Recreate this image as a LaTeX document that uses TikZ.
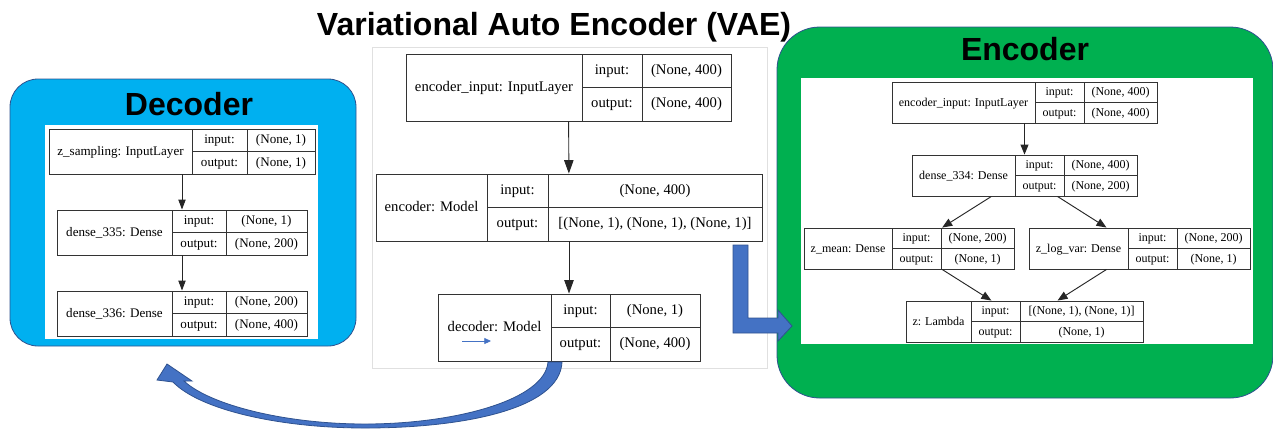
\documentclass[tikz,border=0pt]{standalone}
\usepackage{fontspec}
\setmainfont{Liberation Serif}
\newfontfamily\headfont{Liberation Sans}
\usetikzlibrary{arrows.meta,fit}

\definecolor{vaeblue}{HTML}{00B0F0}
\definecolor{vaegreen}{HTML}{00B050}
\definecolor{arrowblue}{HTML}{4472C4}
\definecolor{edgeblue}{HTML}{2F528F}

\newcommand{\rowh}{20}
% one cell: name, x1, y1, x2, y2, text
\newcommand{\cell}[6]{%
  \node[rec, minimum width={((#4)-(#2))*0.75pt}, minimum height={((#5)-(#3))*0.75pt}]
    (#1) at ({((#2)+(#4))/2},{((#3)+(#5))/2}) {#6};
}
% one keras layer record: id, x1, y1, x of labels, x of values, x2, name, input, output
\newcommand{\layerrec}[9]{%
  \cell{#1}{#2}{#3}{#4}{#3+2*\rowh}{#7}
  \cell{#1-il}{#4}{#3}{#5}{#3+\rowh}{input:}
  \cell{#1-ol}{#4}{#3+\rowh}{#5}{#3+2*\rowh}{output:}
  \cell{#1-iv}{#5}{#3}{#6}{#3+\rowh}{#8}
  \cell{#1-ov}{#5}{#3+\rowh}{#6}{#3+2*\rowh}{#9}
  \cell{#1-rec}{#2}{#3}{#6}{#3+2*\rowh}{}
}

\begin{document}
\begin{tikzpicture}[
  x=0.75pt, y=-0.75pt,
  rec/.style={draw=black!80, line width=0.7pt, inner sep=0pt, text height=1.5ex, text depth=0.3ex},
  panel/.style={draw=edgeblue, line width=0.6pt, inner sep=0pt},
  inner/.style={fill=white, inner sep=0pt},
  head/.style={font=\headfont\bfseries\fontsize{24}{27}\selectfont, anchor=base},
  arr/.style={-{Triangle[length=7.5pt,width=5.5pt]}, draw=black!85, line width=0.7pt},
  blockarr/.style={fill=arrowblue, draw=edgeblue, line width=0.6pt}
]
  \useasboundingbox (0,0) rectangle (1273,430);

  \node[head] (title) at (554,35) {Variational Auto Encoder (VAE)};

  % decoder panel
  \node[panel, fill=vaeblue, rounded corners=21pt, fit={(10,79)(356,346)}] (decpanel) {};
  \node[inner, fit={(45,125)(318,339)}] (decsheet) {};
  \node[head] (dectitle) at (189,115) {Decoder};
  \begin{scope}[rec/.append style={font=\fontsize{9.8}{11}\selectfont}]
    \renewcommand{\rowh}{22.5}
    \layerrec{zs}{49}{129}{192}{247}{315}{z\_sampling: InputLayer}{(None, 1)}{(None, 1)}
    \layerrec{dd1}{57}{210}{172}{226}{307}{dense\_335: Dense}{(None, 1)}{(None, 200)}
    \layerrec{dd2}{57}{291}{172}{226}{307}{dense\_336: Dense}{(None, 200)}{(None, 400)}
    \draw[arr] (zs-rec) -- (dd1-rec);
    \draw[arr] (dd1-rec) -- (dd2-rec);
  \end{scope}

  % whole model
  \node[draw=black!12, line width=0.6pt, inner sep=0pt, fit={(372,47)(767,368)}] (vaesheet) {};
  \begin{scope}[rec/.append style={font=\fontsize{11}{13}\selectfont},
      arr/.append style={-{Triangle[length=10pt,width=7pt]}}]
    \renewcommand{\rowh}{33.5}
    \layerrec{cin}{406}{54}{582}{642}{731}{encoder\_input: InputLayer}{(None, 400)}{(None, 400)}
    \layerrec{cenc}{376}{174}{487}{548}{762}{encoder: Model}{(None, 400)}{[(None, 1), (None, 1), (None, 1)]}
    \layerrec{cdec}{438}{294}{551}{610}{700}{decoder: Model}{(None, 1)}{(None, 400)}
    \draw[arr] (cin-rec) -- (cenc-rec);
    \draw[arr] (cenc-rec) -- (cdec-rec);
  \end{scope}
  \draw[-{Triangle[length=5pt,width=4.5pt]}, arrowblue, line width=0.6pt] (462,341) -- (491,341);

  % encoder panel
  \node[panel, fill=vaegreen, rounded corners=32pt, fit={(777,27)(1273,398)}] (encpanel) {};
  \node[inner, fit={(801,78)(1253,344)}] (encsheet) {};
  \node[head] (enctitle) at (1025,60) {Encoder};
  \begin{scope}[rec/.append style={font=\fontsize{9}{10}\selectfont},
      arr/.append style={-{Triangle[length=7.5pt,width=6pt]}}]
    \renewcommand{\rowh}{20.5}
    \layerrec{ein}{892}{82}{1035}{1084}{1157}{encoder\_input: InputLayer}{(None, 400)}{(None, 400)}
    \layerrec{ed}{912}{155}{1015}{1064}{1137}{dense\_334: Dense}{(None, 400)}{(None, 200)}
    \layerrec{zm}{804}{228}{892}{941}{1014}{z\_mean: Dense}{(None, 200)}{(None, 1)}
    \layerrec{zv}{1029}{228}{1128}{1177}{1250}{z\_log\_var: Dense}{(None, 200)}{(None, 1)}
    \layerrec{zl}{906}{301}{971}{1020}{1143}{z: Lambda}{[(None, 1), (None, 1)]}{(None, 1)}
    \draw[arr] (ein-rec) -- (ed-rec);
    \draw[arr] (ed-rec) -- (zm-rec);
    \draw[arr] (ed-rec) -- (zv-rec);
    \draw[arr] (zm-rec) -- (zl-rec);
    \draw[arr] (zv-rec) -- (zl-rec);
  \end{scope}

  % block arrows
  \draw[blockarr] (733,245) -- (748,245) -- (748,318) -- (778,318) -- (778,310)
    -- (792,326) -- (778,341) -- (778,333) -- (733,333) -- cycle;
  \draw[blockarr] (548,362) -- (562,362) .. controls (560,410) and (460,428) .. (365,428)
    .. controls (280,428) and (200,410) .. (173,382) -- (157,380) -- (167,364) -- (192,381)
    -- (184,381) .. controls (210,405) and (285,424) .. (365,424)
    .. controls (455,424) and (545,400) .. (548,362) -- cycle;
\end{tikzpicture}
\end{document}
